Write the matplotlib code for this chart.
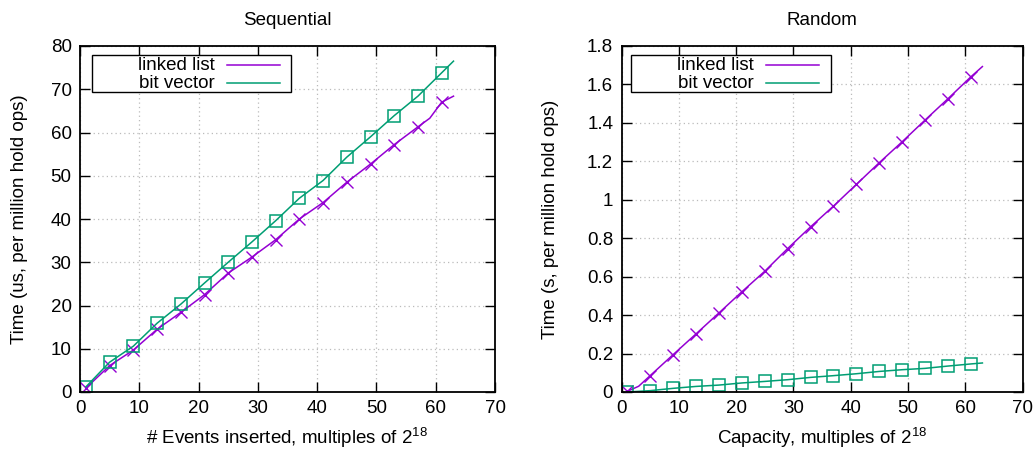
import matplotlib
matplotlib.use("Agg")
import matplotlib.pyplot as plt
from matplotlib.patches import Rectangle
from matplotlib.ticker import FuncFormatter, MultipleLocator

plt.rcParams['font.family'] = ['Liberation Sans', 'DejaVu Sans']
plt.rcParams['mathtext.fontset'] = 'custom'
plt.rcParams['mathtext.rm'] = 'Liberation Sans'

# ---- data ----
# Sequential
seq_ll_x = [1, 5, 9, 13, 17, 21, 25, 29, 33, 37, 41, 45, 49, 53, 57, 59, 61, 63]
seq_ll_y = [0.9, 6.1, 9.7, 14.5, 18.4, 22.5, 27.5, 31.2, 35.2, 40.0, 43.8, 48.5, 52.7, 57.2, 61.3, 63.3, 67.0, 68.4]
seq_bv_x = [1, 5, 9, 13, 17, 21, 25, 29, 33, 37, 41, 45, 49, 53, 57, 61, 63]
seq_bv_y = [1.2, 6.9, 10.6, 15.9, 20.3, 25.2, 30.0, 34.7, 39.6, 44.8, 48.9, 54.3, 59.0, 63.9, 68.4, 73.8, 76.5]
seq_marker_x = [1, 5, 9, 13, 17, 21, 25, 29, 33, 37, 41, 45, 49, 53, 57, 61]

# Random
rnd_ll_x = [1, 3, 5, 9, 13, 17, 21, 25, 29, 33, 37, 41, 45, 49, 53, 57, 61, 63]
rnd_ll_y = [0.003, 0.03, 0.085, 0.194, 0.302, 0.411, 0.521, 0.628, 0.746, 0.859, 0.967, 1.080, 1.193, 1.302, 1.415, 1.526, 1.640, 1.693]
rnd_bv_x = [1, 5, 9, 13, 17, 21, 25, 29, 33, 37, 41, 45, 49, 53, 57, 61, 63]
rnd_bv_y = [0.0, 0.007, 0.019, 0.029, 0.036, 0.047, 0.055, 0.064, 0.076, 0.085, 0.095, 0.107, 0.116, 0.123, 0.135, 0.146, 0.151]
rnd_marker_x = seq_marker_x

titles = ["Sequential", "Random"]
xlabels = ["# Events inserted, multiples of 2$^{18}$", "Capacity, multiples of 2$^{18}$"]
ylabels = ["Time (us, per million hold ops)", "Time (s, per million hold ops)"]
series_names = ["linked list", "bit vector"]

PURPLE = "#9400D3"
GREEN = "#009E73"
FS = 13.5

fig = plt.figure(figsize=(10.36, 4.53), dpi=100)
ax1 = fig.add_axes([80/1036, 61/453, 415/1036, 346/453])
ax2 = fig.add_axes([621.5/1036, 61/453, 401/1036, 346/453])

def markers_for(xs, mx):
    return [i for i, x in enumerate(xs) if x in mx]

panels = [
    (ax1, seq_ll_x, seq_ll_y, seq_bv_x, seq_bv_y, seq_marker_x, 80, 10,
     (0.029, 0.867, 0.508, 0.974), 0.325, (0.354, 0.482), 16),
    (ax2, rnd_ll_x, rnd_ll_y, rnd_bv_x, rnd_bv_y, rnd_marker_x, 1.8, 0.2,
     (0.024, 0.867, 0.522, 0.974), 0.329, (0.360, 0.4925), 20),
]

for k, (ax, lx, ly, bx, by, mx, ymax, ystep, box, txr, lnx, ylp) in enumerate(panels):
    ax.plot(lx, ly, color=PURPLE, lw=1.1, marker='x', markersize=8, markeredgewidth=1.0,
            markevery=markers_for(lx, mx))
    ax.plot(bx, by, color=GREEN, lw=1.1, marker='s', markersize=8, markeredgewidth=1.1,
            fillstyle='none', markevery=markers_for(bx, mx))
    ax.set_xlim(0, 70)
    ax.set_ylim(0, ymax)
    ax.xaxis.set_major_locator(MultipleLocator(10))
    ax.yaxis.set_major_locator(MultipleLocator(ystep))
    ax.yaxis.set_major_formatter(FuncFormatter(lambda v, p: "%g" % round(v, 6)))
    ax.grid(True, color="#bbbbbb", linestyle=(0, (1, 2.5)), lw=0.9)
    ax.tick_params(direction='in', top=True, right=True, length=7, width=1.0,
                   labelsize=FS, pad=6)
    for s in ax.spines.values():
        s.set_linewidth(1.3)
    ax.set_title(titles[k], fontsize=FS, pad=15)
    ax.set_xlabel(xlabels[k], fontsize=FS, labelpad=6)
    ax.set_ylabel(ylabels[k], fontsize=FS, labelpad=ylp)

    # gnuplot-style key: right-aligned text, line sample on the right
    x0, y0, x1, y1 = box
    ax.add_patch(Rectangle((x0, y0), x1 - x0, y1 - y0, transform=ax.transAxes,
                           facecolor='white', edgecolor='black', lw=1.0, zorder=5))
    rows = [0.945, 0.893]
    for name, col, ry in zip(series_names, [PURPLE, GREEN], rows):
        ax.text(txr, ry, name, transform=ax.transAxes, ha='right', va='center',
                fontsize=FS, zorder=6)
        ax.plot(lnx, [ry, ry], transform=ax.transAxes, color=col, lw=1.1, zorder=6,
                clip_on=False)

fig.savefig("out.png", dpi=100)
